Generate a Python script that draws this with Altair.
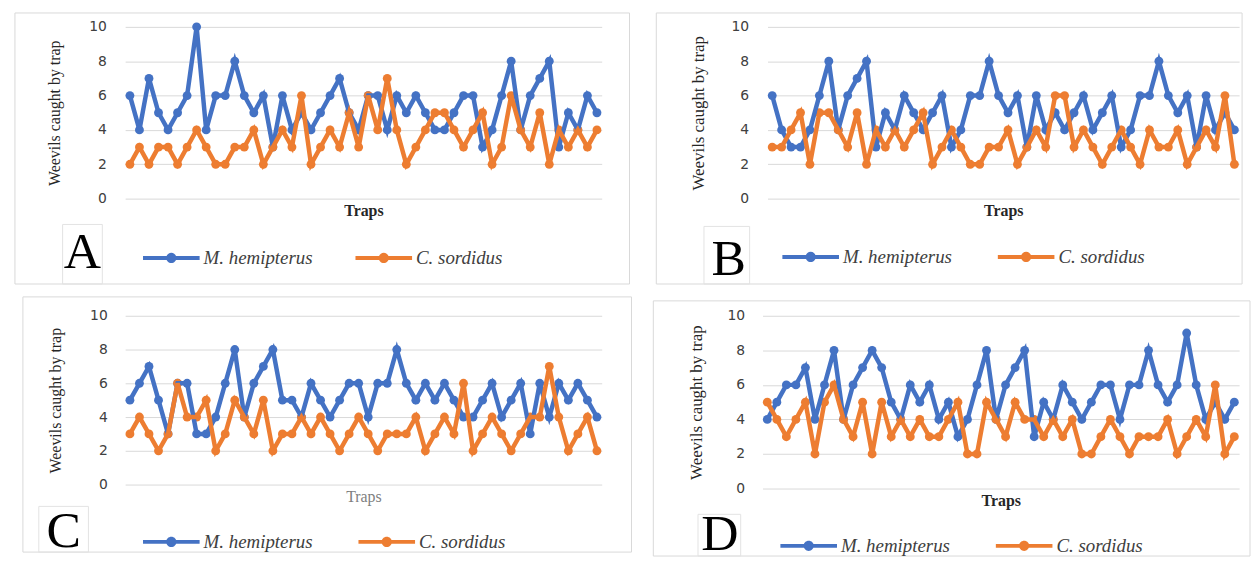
import altair as alt
import pandas as pd

# ---------------- data ----------------
traps = list(range(1, 51))
species = ["M. hemipterus", "C. sordidus"]
colors = ["#4472C4", "#ED7D31"]

A_mh = [6, 4, 7, 5, 4, 5, 6, 10, 4, 6, 6, 8, 6, 5, 6, 3, 6, 4, 5, 4,
        5, 6, 7, 5, 4, 6, 6, 4, 6, 5, 6, 5, 4, 4, 5, 6, 6, 3, 4, 6,
        8, 4, 6, 7, 8, 3, 5, 4, 6, 5]
A_cs = [2, 3, 2, 3, 3, 2, 3, 4, 3, 2, 2, 3, 3, 4, 2, 3, 4, 3, 6, 2,
        3, 4, 3, 5, 3, 6, 4, 7, 4, 2, 3, 4, 5, 5, 4, 3, 4, 5, 2, 3,
        6, 4, 3, 5, 2, 4, 3, 4, 3, 4]

B_mh = [6, 4, 3, 3, 4, 6, 8, 4, 6, 7, 8, 3, 5, 4, 6, 5, 4, 5, 6, 3,
        4, 6, 6, 8, 6, 5, 6, 3, 6, 4, 5, 4, 5, 6, 4, 5, 6, 3, 4, 6,
        6, 8, 6, 5, 6, 3, 6, 4, 5, 4]
B_cs = [3, 3, 4, 5, 2, 5, 5, 4, 3, 5, 2, 4, 3, 4, 3, 4, 5, 2, 3, 4,
        3, 2, 2, 3, 3, 4, 2, 3, 4, 3, 6, 6, 3, 4, 3, 2, 3, 4, 3, 2,
        4, 3, 3, 4, 2, 3, 4, 3, 6, 2]

C_mh = [5, 6, 7, 5, 3, 6, 6, 3, 3, 4, 6, 8, 4, 6, 7, 8, 5, 5, 4, 6,
        5, 4, 5, 6, 6, 4, 6, 6, 8, 6, 5, 6, 5, 6, 5, 4, 4, 5, 6, 4,
        5, 6, 3, 6, 4, 6, 5, 6, 5, 4]
C_cs = [3, 4, 3, 2, 3, 6, 4, 4, 5, 2, 3, 5, 4, 3, 5, 2, 3, 3, 4, 3,
        4, 3, 2, 3, 4, 3, 2, 3, 3, 3, 4, 2, 3, 4, 3, 6, 2, 3, 4, 3,
        2, 3, 4, 4, 7, 4, 2, 3, 4, 2]

D_mh = [4, 5, 6, 6, 7, 4, 6, 8, 4, 6, 7, 8, 7, 5, 4, 6, 5, 6, 4, 5,
        3, 4, 6, 8, 4, 6, 7, 8, 3, 5, 4, 6, 5, 4, 5, 6, 6, 4, 6, 6,
        8, 6, 5, 6, 9, 6, 4, 5, 4, 5]
D_cs = [5, 4, 3, 4, 5, 2, 5, 6, 4, 3, 5, 2, 5, 3, 4, 3, 4, 3, 3, 4,
        5, 2, 2, 5, 4, 3, 5, 4, 4, 3, 4, 3, 4, 2, 2, 3, 4, 3, 2, 3,
        3, 3, 4, 2, 3, 4, 3, 6, 2, 3]

y_ticks = [0, 2, 4, 6, 8, 10]

# legend symbol: a bar with a dot in the middle (normalised -1..1)
SYM = ("M-1,-0.07L1,-0.07L1,0.07L-1,0.07Z"
       "M-0.18,0A0.18,0.18,0,1,1,0.18,0A0.18,0.18,0,1,1,-0.18,0Z")


def panel(mh, cs, letter, g):
    df = pd.DataFrame({
        "trap": traps + traps,
        "count": mh + cs,
        "species": [species[0]] * len(mh) + [species[1]] * len(cs),
    })
    x = alt.X("trap:Q",
              scale=alt.Scale(domain=[0.5, 50.5], nice=False, zero=False),
              axis=alt.Axis(title="Traps", labels=False, ticks=False,
                            domain=False, grid=False,
                            titleFont="Liberation Serif", titleFontSize=16,
                            titleFontWeight=g["xtw"], titleColor=g["xtc"],
                            titlePadding=4))
    y = alt.Y("count:Q",
              scale=alt.Scale(domain=[0, 10], nice=False),
              axis=alt.Axis(values=y_ticks, title="Weevils caught by trap",
                            grid=True, gridColor="#D9D9D9", gridWidth=1,
                            domain=False, ticks=False,
                            labelFont="DejaVu Sans", labelFontSize=14,
                            labelColor="#404040", labelPadding=g["lp"],
                            titleFont=g["tf"], titleFontSize=g["tfs"],
                            titleFontWeight="normal", titleColor="#262626",
                            titlePadding=g["tp"]))
    color = alt.Color("species:N",
                      scale=alt.Scale(domain=species, range=colors),
                      legend=alt.Legend(title=None, orient="none",
                                        legendX=g["lx"], legendY=g["ly"],
                                        direction="horizontal",
                                        symbolType=SYM, symbolSize=3249,
                                        symbolStrokeWidth=0,
                                        labelFont="Liberation Serif",
                                        labelFontStyle="italic",
                                        labelFontSize=19, labelColor="#404040",
                                        labelOffset=4, columnPadding=g["cp"]))
    base = alt.Chart(df).encode(x=x, y=y, color=color)
    pts = base.mark_point(filled=True, size=80, opacity=1)
    lines = base.mark_line(strokeWidth=4.5)

    one = pd.DataFrame({"lab": [letter]})
    box = alt.Chart(one).mark_rect(fill="transparent", stroke="#D9D9D9",
                                   strokeWidth=1).encode(
        x=alt.value(g["box"][0]), x2=alt.value(g["box"][1]),
        y=alt.value(g["box"][2]), y2=alt.value(g["box"][3]))
    lbox = alt.Chart(one).mark_rect(fill="transparent", stroke="#E3E3E3",
                                    strokeWidth=1).encode(
        x=alt.value(g["lbox"][0]), x2=alt.value(g["lbox"][1]),
        y=alt.value(g["lbox"][2]), y2=alt.value(g["lbox"][3]))
    lab = alt.Chart(one).mark_text(font="Liberation Serif", fontSize=52,
                                   align="center", baseline="alphabetic",
                                   color="#000000").encode(
        text="lab:N", x=alt.value(g["lt"][0]), y=alt.value(g["lt"][1]))

    return alt.layer(box, lbox, pts, lines, lab).properties(
        width=g["w"], height=g["h"])


gA = dict(w=480, h=173, lp=19, tp=26, tf="Liberation Serif", tfs=16,
          xtw="bold", xtc="#262626", lx=18, ly=204, cp=43,
          box=[-111, 508, -14, 259], lbox=[-63, -23, 199, 259], lt=[-43, 243])
gB = dict(w=475, h=173, lp=19, tp=24, tf="Liberation Sans Narrow", tfs=17,
          xtw="bold", xtc="#262626", lx=15, ly=203, cp=46,
          box=[-112, 478, -14, 259], lbox=[-64, -18, 201, 259], lt=[-39, 250])
gC = dict(w=480, h=170, lp=18, tp=26, tf="Liberation Serif", tfs=16,
          xtw="normal", xtc="#7F7F7F", lx=18, ly=199, cp=46,
          box=[-103, 510, -19, 238], lbox=[-87, -37, 192, 238], lt=[-62, 233])
gD = dict(w=480, h=174, lp=18, tp=22, tf="Liberation Sans Narrow", tfs=17,
          xtw="bold", xtc="#262626", lx=18, ly=203, cp=46,
          box=[-110, 491, -15, 242], lbox=[-65, -22, 200, 242], lt=[-43, 236])

pA = panel(A_mh, A_cs, "A", gA)
pB = panel(B_mh, B_cs, "B", gB)
pC = panel(C_mh, C_cs, "C", gC)
pD = panel(D_mh, D_cs, "D", gD)

row1 = alt.hconcat(pA, pB, spacing=25).resolve_scale(color="independent").resolve_legend(color="independent")
row2 = alt.hconcat(pC, pD, spacing=20).resolve_scale(color="independent").resolve_legend(color="independent")

chart = alt.vconcat(row1, row2, spacing=11).resolve_scale(
    color="independent").resolve_legend(color="independent").properties(
    padding={"left": 6, "top": 2, "right": 0, "bottom": 0},
    background="white",
).configure_view(stroke=None)

chart.save("out.html", embed_options={"renderer": "svg", "actions": False})
